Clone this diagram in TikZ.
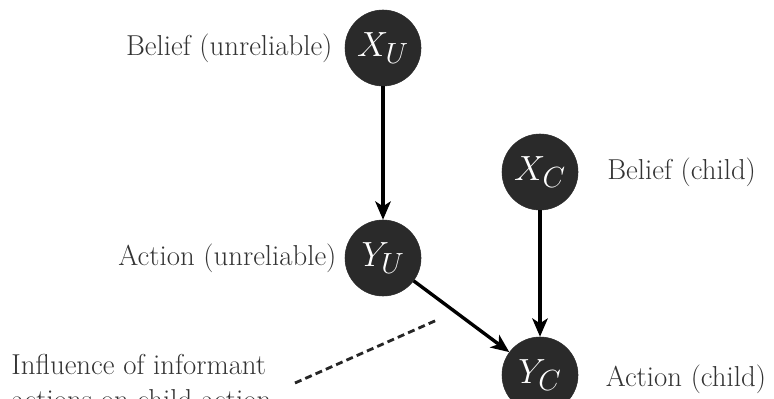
\documentclass[tikz,border=0pt]{standalone}
\usepackage{tikz}
\usetikzlibrary{arrows.meta, positioning}
\usepackage{xcolor}
\usepackage{amsmath}
\definecolor{nodeGray}{HTML}{2A2A2A}
\tikzset{
    bnVar/.style={
        circle, draw=nodeGray, fill=nodeGray, text=white, minimum size=1.9cm, inner sep=0pt, font=\fontsize{29}{34}\selectfont
    },
    bnLabel/.style={
        font=\fontsize{20.5}{25}\selectfont\rmfamily, text=black!80, inner sep=0pt
    },
    bnArrow/.style={
        -{Stealth[length=13pt, width=11pt, inset=3.5pt]}, line width=2.4pt, draw=black
    },
    bnDashed/.style={
        dash pattern=on 5pt off 3pt, line width=2pt, draw=black!85
    }
}
\begin{document}
\begin{tikzpicture}
    \useasboundingbox (0,0) rectangle (19.35,9.95);

    % -- VARIABLES
    \node[bnVar] (xU) at (9.575, 8.75) {$X_U$};
    \node[bnVar] (yU) at (9.575, 3.5) {$Y_U$};
    \node[bnVar] (xC) at (13.5, 5.65) {$X_C$};
    \node[bnVar] (yC) at (13.5, 0.575) {$Y_C$};

    % -- LABELS
    \node[bnLabel, left=0.3cm of xU] (lxU) {Belief (unreliable)};
    \node[bnLabel, left=0.2cm of yU] (lyU) {Action (unreliable)};
    \node[bnLabel, right=0.72cm of xC] (lxC) {Belief (child)};
    \node[bnLabel, right=0.68cm of yC, yshift=-0.12cm] (lyC) {Action (child)};
    \node[bnLabel, anchor=north west, align=left] (infl) at (0.28, 1.1) {Influence of informant\\actions on child action};

    % -- EDGES
    \draw[bnArrow] (xU) -- (yU);
    \draw[bnArrow] (xC) -- (yC);
    \draw[bnArrow] (yU) -- (yC);
    \coordinate (dashStart) at (7.375, 0.375);
    \coordinate (dashEnd) at (10.925, 1.95);
    \draw[bnDashed] (dashStart) -- (dashEnd);
\end{tikzpicture}
\end{document}
